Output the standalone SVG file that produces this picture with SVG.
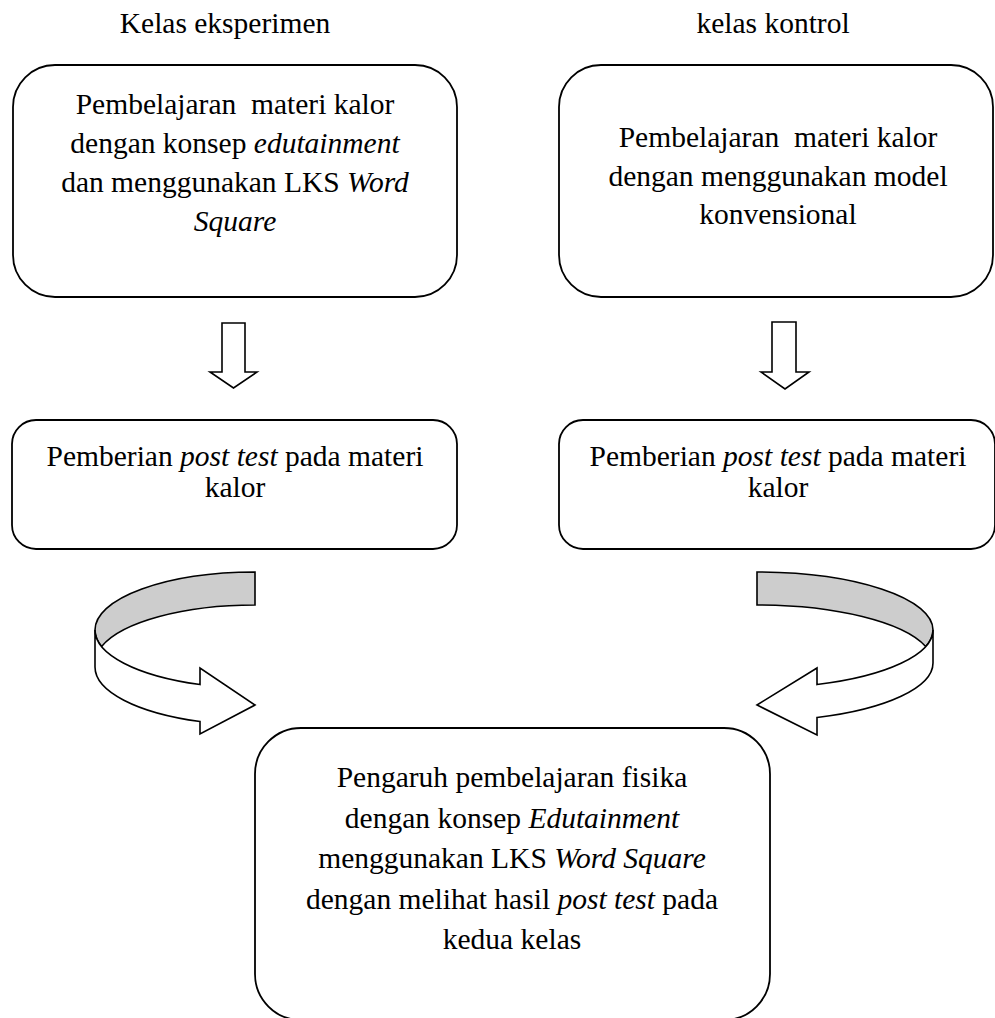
<svg xmlns="http://www.w3.org/2000/svg" width="995" height="1018" viewBox="0 0 995 1018">
<style>
text{font-family:"Liberation Serif","Times New Roman",serif;font-size:29.5px;fill:#000;text-anchor:middle;white-space:pre}
.i{font-style:italic}
.box{fill:#fff;stroke:#000;stroke-width:1.8}
.arr{fill:#fff;stroke:#000;stroke-width:1.6;stroke-linejoin:miter}
.band{fill:#cdcdcd;stroke:#000;stroke-width:1.6}
</style>
<rect width="995" height="1018" fill="#fff"/>
<g id="label-eksperimen"><text x="225" y="33">Kelas eksperimen</text></g>
<g id="label-kontrol"><text x="773" y="33">kelas kontrol</text></g>
<g id="box-eksperimen">
<rect class="box" x="13" y="65" width="444" height="232" rx="42" ry="42"/>
<text x="235" y="114" xml:space="preserve">Pembelajaran  materi kalor</text>
<text x="235" y="153">dengan konsep <tspan class="i">edutainment</tspan></text>
<text x="235" y="192">dan menggunakan LKS <tspan class="i">Word</tspan></text>
<text x="235" y="231" class="i">Square</text>
</g>
<g id="box-kontrol">
<rect class="box" x="559" y="65" width="434" height="232" rx="42" ry="42"/>
<text x="778" y="147" xml:space="preserve">Pembelajaran  materi kalor</text>
<text x="778" y="186">dengan menggunakan model</text>
<text x="778" y="224">konvensional</text>
</g>
<g id="post-eksperimen">
<rect class="box" x="12" y="420" width="445" height="129" rx="24" ry="24"/>
<text x="235" y="466">Pemberian <tspan class="i">post test</tspan> pada materi</text>
<text x="235" y="497">kalor</text>
</g>
<g id="post-kontrol">
<rect class="box" x="559" y="420" width="436" height="129" rx="24" ry="24"/>
<text x="778" y="466">Pemberian <tspan class="i">post test</tspan> pada materi</text>
<text x="778" y="497">kalor</text>
</g>
<g id="hasil">
<rect class="box" x="255" y="728" width="515" height="292" rx="46" ry="46"/>
<text x="512" y="787">Pengaruh pembelajaran fisika</text>
<text x="512" y="827.5">dengan konsep <tspan class="i">Edutainment</tspan></text>
<text x="512" y="868">menggunakan LKS <tspan class="i">Word Square</tspan></text>
<text x="512" y="908.5">dengan melihat hasil <tspan class="i">post test</tspan> pada</text>
<text x="512" y="949">kedua kelas</text>
</g>
<g id="connectors">
<path class="arr" d="M222,323 L245,323 L245,372 L257,372 L233.5,388 L210,372 L222,372 Z"/>
<path class="arr" d="M772,322 L796,322 L796,372 L809,372 L785,389 L761,372 L772,372 Z"/>
<path class="band" d="M255,572 A160,58 0 0 0 95,630 A160,58 0 0 0 101.6,646.5 A160,58 0 0 1 255,605 Z"/>
<path class="arr" d="M95,630 L95,667 A160,58 0 0 0 200,721.5 L200,734 L255,705 L200,668 L200,684.5 A160,58 0 0 1 95,630 Z"/>
<path class="band" d="M757,572 A176,58 0 0 1 933,630 A176,58 0 0 1 925.7,646.5 A176,58 0 0 0 757,605 Z"/>
<path class="arr" d="M933,630 L933,663 A176,58 0 0 1 817,717.5 L817,735 L757,705 L817,668 L817,684.5 A176,58 0 0 0 933,630 Z"/>
</g>
</svg>
